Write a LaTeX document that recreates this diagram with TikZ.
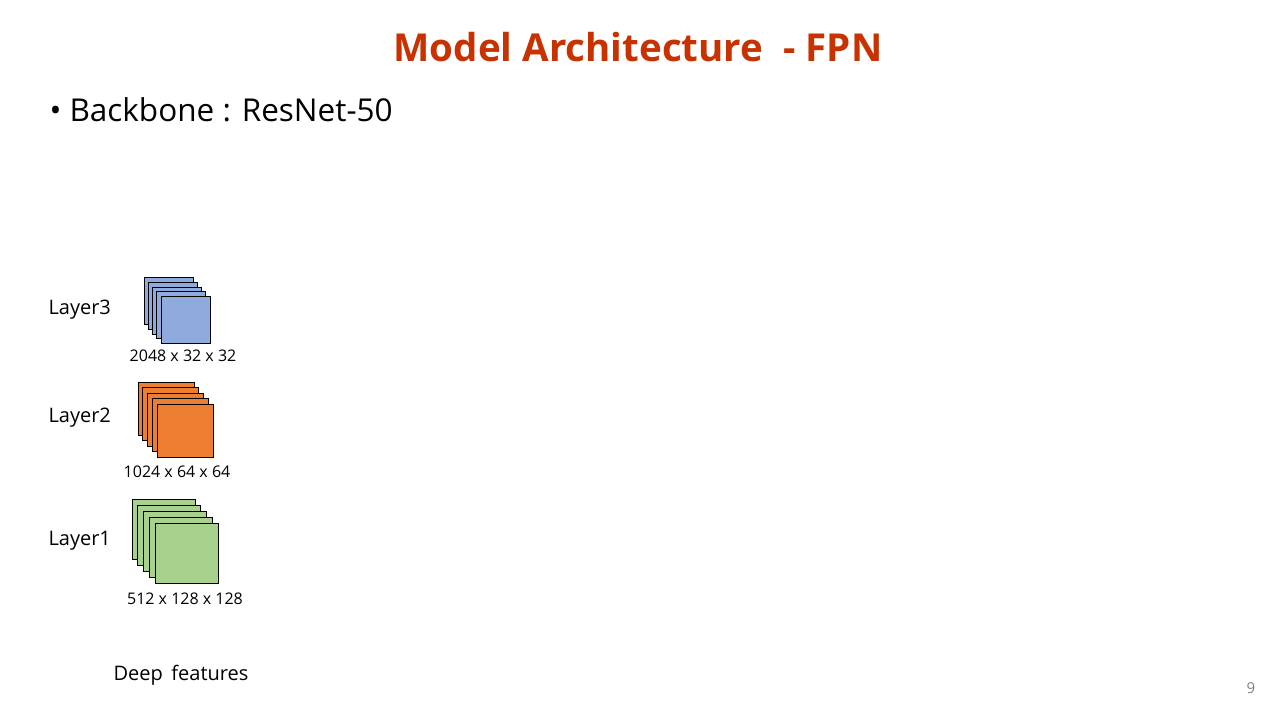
\documentclass[tikz,border=0pt]{standalone}
\usepackage{fontspec}
\setmainfont{Open Sans}
\usepackage{xcolor}
\usetikzlibrary{positioning}
\definecolor{titlered}{RGB}{200,50,0}
\definecolor{mapblue}{RGB}{143,170,220}
\definecolor{maporange}{RGB}{237,125,49}
\definecolor{mapgreen}{RGB}{169,209,142}
\tikzset{
  fmap/.style={draw=black, line width=0.9pt, inner sep=0pt},
  layerlbl/.style={anchor=west, font=\fontsize{20}{24}\selectfont},
  dimlbl/.style={font=\fontsize{16}{19}\selectfont}
}
\begin{document}
\begin{tikzpicture}[x=1pt, y=-1pt]
  \useasboundingbox (0,0) rectangle (1280,720);
  \node[font=\fontsize{38.5}{46}\selectfont\bfseries, text=titlered] (title) at (638,47) {Model Architecture\ \ - FPN};
  \node[anchor=west, font=\fontsize{31.5}{38}\selectfont] (backbone) at (46,110) {\textbullet\ Backbone : ResNet-50};

  % Layer3
  \foreach \i in {0,...,4}
    \node[fmap, fill=mapblue, minimum width=49pt, minimum height=47pt] (lthree\i) at (168.5+4.25*\i, 301+4.75*\i) {};
  \node[layerlbl] (lthreelbl) at (45,310) {Layer3};
  \node[dimlbl] (lthreedim) at (183,356) {2048 x 32 x 32};

  % Layer2
  \foreach \i in {0,...,4}
    \node[fmap, fill=maporange, minimum width=56pt, minimum height=53pt] (ltwo\i) at (166+4.75*\i, 408.5+5.5*\i) {};
  \node[layerlbl] (ltwolbl) at (45,418) {Layer2};
  \node[dimlbl] (ltwodim) at (177,472) {1024 x 64 x 64};

  % Layer1
  \foreach \i in {0,...,4}
    \node[fmap, fill=mapgreen, minimum width=63pt, minimum height=60pt] (lone\i) at (163.5+5.75*\i, 529+6*\i) {};
  \node[layerlbl] (lonelbl) at (45,541) {Layer1};
  \node[dimlbl] (lonedim) at (185,599) {512 x 128 x 128};

  \node[font=\fontsize{20}{24}\selectfont] (deep) at (181,675) {Deep\ \,features};
  \node[font=\fontsize{15}{18}\selectfont, text=gray] (pagenum) at (1251,688) {9};
\end{tikzpicture}
\end{document}
